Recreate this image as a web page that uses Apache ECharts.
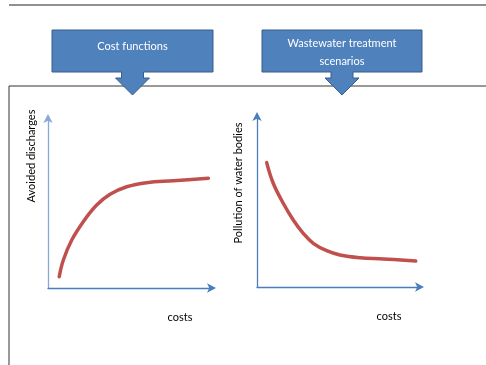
<!DOCTYPE html>
<html>
<head>
<meta charset="utf-8">
<script src="https://cdn.jsdelivr.net/npm/echarts@6/dist/echarts.min.js"></script>
<style>
  html, body { margin: 0; padding: 0; background: #fff; }
  #chart { width: 486px; height: 365px; }
</style>
</head>
<body>
<div id="chart"></div>
<script>
// Cost curve: avoided discharges rising with costs, levelling off
const costX1 = [6.8, 9.3, 14.4, 21.4, 29.5, 37.6, 47.7, 59.8, 75.9, 97.2];
const avoidedDischarges = [6.6, 16.4, 28.1, 38.8, 48.5, 54.8, 59.2, 61.6, 62.7, 64.2];

// Scenario curve: pollution of water bodies falling with costs
const costX2 = [5.9, 9.9, 16.0, 22.1, 28.2, 34.3, 42.5, 50.6, 62.8, 77.0, 96.8];
const pollution = [72.3, 60.3, 48.7, 39.0, 31.2, 25.4, 21.1, 18.6, 17.0, 16.3, 15.1];

const titles = ['Cost functions', 'Wastewater treatment\nscenarios'];
const yNames = ['Avoided discharges', 'Pollution of water bodies'];
const xName = 'costs';

const FONT = 'Lato, "Open Sans", sans-serif';
const RED = '#C0504D';
const AXIS = '#4A7EBB';

function pairs(xs, ys) { return xs.map((x, i) => [x, ys[i]]); }

function axisLine(color) {
  return {
    show: true,
    symbol: ['none', 'arrow'],
    symbolSize: [7, 9],
    symbolOffset: [0, 3],
    lineStyle: { color: color, width: 1.3 }
  };
}

function valueAxis(idx, color) {
  return {
    type: 'value', gridIndex: idx, min: 0, max: 100,
    axisLine: axisLine(color),
    axisTick: { show: false }, axisLabel: { show: false }, splitLine: { show: false }
  };
}

// Down-arrow callout: a box with an arrow underneath
function callout(x0, x1, label, lines) {
  const cx = (x0 + x1) / 2;
  const top = 30, bot = 72, neck = 78, tip = 95, sw = 11, hw = 17;
  return [
    {
      type: 'polygon', z: 10,
      shape: { points: [[x0, top], [x1, top], [x1, bot], [cx + sw, bot], [cx + sw, neck], [cx + hw, neck],
        [cx, tip], [cx - hw, neck], [cx - sw, neck], [cx - sw, bot], [x0, bot]] },
      style: { fill: '#4F81BD', stroke: '#385D8A', lineWidth: 1 }
    },
    {
      type: 'text', z: 11, x: cx, y: lines === 1 ? 46 : 52,
      style: { text: label, fill: '#fff', font: '11px ' + FONT, align: 'center', verticalAlign: 'middle', lineHeight: 18 }
    }
  ];
}

const chart = echarts.init(document.getElementById('chart'), null, { renderer: 'canvas' });

chart.setOption({
  backgroundColor: '#fff',
  animation: false,
  grid: [
    { left: 48, top: 117, width: 165, height: 171 },
    { left: 257, top: 115, width: 164, height: 172 }
  ],
  xAxis: [valueAxis(0, AXIS), valueAxis(1, AXIS)],
  yAxis: [valueAxis(0, '#86A9D6'), valueAxis(1, AXIS)],
  series: [
    {
      type: 'line', xAxisIndex: 0, yAxisIndex: 0, smooth: 0.4, showSymbol: false,
      data: pairs(costX1, avoidedDischarges),
      lineStyle: { color: RED, width: 3.5, cap: 'round' }
    },
    {
      type: 'line', xAxisIndex: 1, yAxisIndex: 1, smooth: 0.4, showSymbol: false,
      data: pairs(costX2, pollution),
      lineStyle: { color: RED, width: 3.5, cap: 'round' }
    }
  ],
  graphic: [
    { type: 'line', shape: { x1: 9, y1: 5, x2: 486, y2: 5 }, style: { stroke: '#222', lineWidth: 1 } },
    { type: 'line', shape: { x1: 9, y1: 86, x2: 486, y2: 86 }, style: { stroke: '#333', lineWidth: 1 } },
    { type: 'line', shape: { x1: 9, y1: 86, x2: 9, y2: 365 }, style: { stroke: '#333', lineWidth: 1 } },
    ...callout(52, 213, titles[0], 1),
    ...callout(262, 422, titles[1], 2),
    {
      type: 'text', x: 31, y: 156, rotation: Math.PI / 2,
      style: { text: yNames[0], fill: '#000', font: '11px ' + FONT, align: 'center', verticalAlign: 'middle' }
    },
    {
      type: 'text', x: 238, y: 183, rotation: Math.PI / 2,
      style: { text: yNames[1], fill: '#000', font: '11px ' + FONT, align: 'center', verticalAlign: 'middle' }
    },
    {
      type: 'text', x: 180, y: 317,
      style: { text: xName, fill: '#000', font: '11px ' + FONT, align: 'center', verticalAlign: 'middle' }
    },
    {
      type: 'text', x: 389, y: 316,
      style: { text: xName, fill: '#000', font: '11px ' + FONT, align: 'center', verticalAlign: 'middle' }
    }
  ]
});
</script>
</body>
</html>
